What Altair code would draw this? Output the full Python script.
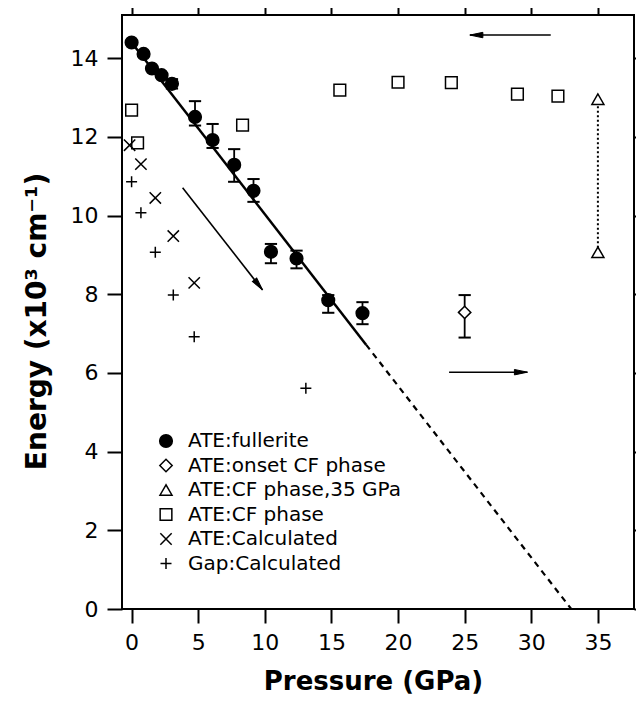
import altair as alt
import pandas as pd

# ---------------- data ----------------
series_names = ["ATE:fullerite", "ATE:onset CF phase", "ATE:CF phase,35 GPa",
                "ATE:CF phase", "ATE:Calculated", "Gap:Calculated"]

ful_x = [0.0, 0.9, 1.53, 2.25, 3.03, 4.76, 6.08, 7.7, 9.15, 10.46, 12.38, 14.76, 17.33]
ful_y = [14.40, 14.11, 13.74, 13.57, 13.35, 12.51, 11.92, 11.29, 10.63, 9.08, 8.91, 7.85, 7.52]

onset_x = [25.0]
onset_y = [7.54]

cf35_x = [35.0, 35.0]
cf35_y = [12.96, 9.07]

cf_x = [0.0, 0.45, 8.33, 15.63, 20.0, 24.0, 28.96, 32.0]
cf_y = [12.68, 11.85, 12.30, 13.19, 13.39, 13.38, 13.09, 13.04]

calc_x = [-0.15, 0.7, 1.78, 3.13, 4.7]
calc_y = [11.79, 11.31, 10.45, 9.48, 8.29]

gap_x = [0.0, 0.7, 1.78, 3.13, 4.7, 13.08]
gap_y = [10.86, 10.07, 9.07, 7.98, 6.92, 5.61]

# error bars (fullerite points and the onset point)
err_x = [3.03, 4.76, 6.08, 7.7, 9.15, 10.46, 12.38, 14.76, 17.33, 25.0]
err_lo = [13.23, 12.29, 11.72, 10.86, 10.35, 8.79, 8.66, 7.53, 7.24, 6.90]
err_hi = [13.47, 12.91, 12.33, 11.69, 10.93, 9.28, 9.11, 7.98, 7.80, 7.98]

# linear fit: solid part and dashed extrapolation
fit_solid_x = [0.0, 17.6]
fit_solid_y = [14.40, 6.72]
fit_dash_x = [17.6, 33.0]
fit_dash_y = [6.72, 0.0]

# arrows (start -> end) and arrow-head rotation
arrow_x1 = [31.46, 3.83, 23.83]
arrow_y1 = [14.59, 10.71, 6.02]
arrow_x2 = [25.39, 9.83, 29.71]
arrow_y2 = [14.59, 8.11, 6.02]
arrow_angle = [180, 52, 0]

x_ticks = [0, 5, 10, 15, 20, 25, 30, 35]
y_ticks = [0, 2, 4, 6, 8, 10, 12, 14]
x_domain = [-0.72, 37.71]
y_domain = [0, 15.1]

# ---------------- tables ----------------
pts = pd.concat([
    pd.DataFrame({"x": ful_x, "y": ful_y, "series": series_names[0]}),
    pd.DataFrame({"x": onset_x, "y": onset_y, "series": series_names[1]}),
    pd.DataFrame({"x": cf35_x, "y": cf35_y, "series": series_names[2]}),
    pd.DataFrame({"x": cf_x, "y": cf_y, "series": series_names[3]}),
    pd.DataFrame({"x": calc_x, "y": calc_y, "series": series_names[4]}),
    pd.DataFrame({"x": gap_x, "y": gap_y, "series": series_names[5]}),
], ignore_index=True)

err = pd.DataFrame({"x": err_x, "lo": err_lo, "hi": err_hi})
caps = pd.DataFrame({"x": err_x + err_x, "y": err_lo + err_hi})
fit_solid = pd.DataFrame({"x": [fit_solid_x[0]], "y": [fit_solid_y[0]],
                          "x2": [fit_solid_x[1]], "y2": [fit_solid_y[1]]})
fit_dash = pd.DataFrame({"x": [fit_dash_x[0]], "y": [fit_dash_y[0]],
                         "x2": [fit_dash_x[1]], "y2": [fit_dash_y[1]]})
dotted = pd.DataFrame({"x": [cf35_x[0]], "y": [cf35_y[1]], "y2": [cf35_y[0]]})
arrows = pd.DataFrame({"x": arrow_x1, "y": arrow_y1, "x2": arrow_x2, "y2": arrow_y2,
                       "ang": arrow_angle})

X_PATH = "M-1,-1L1,1M-1,1L1,-1"
PLUS_PATH = "M-1,0L1,0M0,-1L0,1"
CAP_PATH = "M-1,0L1,0"
HEAD_PATH = "M0,0L-2,-0.42L-2,0.42Z"

FONT = "DejaVu Sans"

xs = alt.Scale(domain=x_domain, nice=False, zero=False)
ys = alt.Scale(domain=y_domain, nice=False, zero=False)

x_bottom = alt.Axis(values=x_ticks, orient="bottom", grid=False, domain=False,
                    tickSize=14, tickWidth=2, tickColor="black",
                    labelFont=FONT, labelFontSize=22, labelColor="black", labelPadding=9,
                    title="Pressure  (GPa)", titleFont=FONT, titleFontSize=26,
                    titleFontWeight="bold", titleColor="black",
                    titleX=251, titleY=80, titleBaseline="alphabetic", titleAlign="center")
x_top = alt.Axis(values=x_ticks, orient="top", grid=False, domain=False, labels=False,
                 tickSize=15, tickWidth=2, tickColor="black", title=None)
y_left = alt.Axis(values=y_ticks, orient="left", grid=False, domain=False,
                  tickSize=15, tickWidth=2, tickColor="black",
                  labelFont=FONT, labelFontSize=22, labelColor="black", labelPadding=9,
                  title="Energy  (x10³ cm⁻¹)", titleFont=FONT, titleFontSize=28,
                  titleFontWeight="bold", titleColor="black", titleAngle=270,
                  titleX=-77, titleY=306, titleBaseline="alphabetic", titleAlign="center")
y_right = alt.Axis(values=y_ticks, orient="right", grid=False, domain=False, labels=False,
                   tickSize=10, tickWidth=2, tickColor="black", title=None)


def X(field, axis=None):
    return alt.X(field, scale=xs, axis=axis)


def Y(field, axis=None):
    return alt.Y(field, scale=ys, axis=axis)


solid = alt.Chart(fit_solid).mark_rule(color="black", strokeWidth=2.5).encode(
    x=X("x:Q", x_bottom), y=Y("y:Q", y_left), x2="x2:Q", y2="y2:Q")
dash = alt.Chart(fit_dash).mark_rule(color="black", strokeWidth=2.2, strokeDash=[6, 5]).encode(
    x=X("x:Q", x_top), y=Y("y:Q", y_right), x2="x2:Q", y2="y2:Q")
dots = alt.Chart(dotted).mark_rule(color="black", strokeWidth=2, strokeDash=[2, 2.5]).encode(
    x=X("x:Q"), y=Y("y:Q"), y2="y2:Q")
ebars = alt.Chart(err).mark_rule(color="black", strokeWidth=1.8).encode(
    x=X("x:Q"), y=Y("lo:Q"), y2="hi:Q")
ecaps = alt.Chart(caps).mark_point(shape=CAP_PATH, size=150, stroke="black",
                                   strokeWidth=2, opacity=1, filled=False).encode(
    x=X("x:Q"), y=Y("y:Q"))
ashafts = alt.Chart(arrows).mark_rule(color="black", strokeWidth=1.6).encode(
    x=X("x:Q"), y=Y("y:Q"), x2="x2:Q", y2="y2:Q")
aheads = alt.Chart(arrows).mark_point(shape=HEAD_PATH, size=169, fill="black", stroke="black",
                                      strokeWidth=1, opacity=1, filled=True).encode(
    x=X("x2:Q"), y=Y("y2:Q"), angle=alt.Angle("ang:Q", scale=None))

legend = alt.Legend(title=None, orient="none", legendX=34, legendY=416,
                    labelFont=FONT, labelFontSize=20, labelColor="black", labelLimit=500,
                    labelOffset=12, rowPadding=4.5, padding=0,
                    symbolStrokeColor="black", symbolStrokeWidth=1.5, symbolOpacity=1)
points = alt.Chart(pts).mark_point(stroke="black", strokeWidth=1.5, opacity=1).encode(
    x=X("x:Q"), y=Y("y:Q"),
    shape=alt.Shape("series:N", legend=legend, scale=alt.Scale(
        domain=series_names,
        range=["circle", "diamond", "triangle-up", "square", X_PATH, PLUS_PATH])),
    fill=alt.Fill("series:N", legend=legend, scale=alt.Scale(
        domain=series_names,
        range=["black", "white", "white", "white", "white", "white"])),
    stroke=alt.Stroke("series:N", legend=legend, scale=alt.Scale(
        domain=series_names, range=["black"] * 6)),
    size=alt.Size("series:N", legend=legend, scale=alt.Scale(
        domain=series_names, range=[160, 121, 200, 160, 130, 121])),
)

chart = alt.layer(solid, dash, dots, ebars, ecaps, ashafts, aheads, points).properties(
    width=512, height=594,
    autosize=alt.AutoSizeParams(type="none"),
    padding={"left": 114, "top": 7, "right": 2, "bottom": 89},
    background="white",
).configure_view(stroke="black", strokeWidth=2)

chart.save("out.html", embed_options={"renderer": "svg", "actions": False})
